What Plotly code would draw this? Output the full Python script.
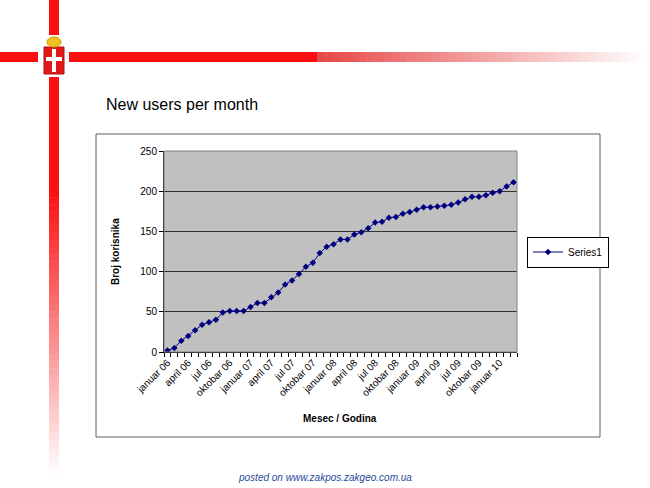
import plotly.graph_objects as go

# ---- data ----
months = ["januar", "februar", "mart", "april", "maj", "jun", "jul",
          "avgust", "septembar", "oktobar", "novembar", "decembar"]
years = ["06", "07", "08", "09", "10"]
n_points = 51
categories = [f"{months[i % 12]} {years[i // 12]}" for i in range(n_points)]
users = [2, 5, 14, 20, 27, 34, 37, 40, 49, 51, 51, 51, 56, 61, 61, 68, 74, 84,
         89, 97, 106, 111, 123, 131, 134, 140, 140, 146, 149, 154, 161, 162,
         167, 168, 172, 174, 177, 180, 180, 181, 182, 183, 186, 190, 193, 193,
         195, 198, 200, 206, 211]
label_step = 3
series_name = "Series1"

W, H = 650, 488
L, R, T, B = 164, 517, 151, 352  # plot area pixels


def px(x):
    return (x - L) / (R - L)


def py(y):
    return (B - y) / (B - T)


FONT = "Arial, Liberation Sans, sans-serif"
xs = list(range(len(users)))

fig = go.Figure()
fig.add_trace(go.Scatter(
    x=xs, y=users, name=series_name, mode="lines+markers",
    line=dict(color="#000080", width=1),
    marker=dict(symbol="diamond", size=5, color="#000080"),
    customdata=categories,
    hovertemplate="%{customdata}: %{y}<extra></extra>",
))

shapes = []


def rect(x0, y0, x1, y1, fill, line=None, lw=0, layer="above"):
    shapes.append(dict(type="rect", xref="paper", yref="paper",
                       x0=px(x0), x1=px(x1), y0=py(y1), y1=py(y0),
                       fillcolor=fill, layer=layer,
                       line=dict(color=line or fill, width=lw)))


def mix(c, t):
    # t=0 -> color c, t=1 -> white
    r, g, b = c
    return "rgb(%d,%d,%d)" % (r + (255 - r) * t, g + (255 - g) * t, b + (255 - b) * t)


RED = (250, 16, 16)
# vertical bar
rect(49, 0, 59, 35, mix(RED, 0))
rect(49, 77, 59, 190, mix(RED, 0))
nseg = 40
for i in range(nseg):
    y0 = 190 + (475 - 190) * i / nseg
    y1 = 190 + (475 - 190) * (i + 1) / nseg
    rect(49, y0, 59, y1 + 0.5, mix(RED, (i + 0.5) / nseg))
# horizontal bar
rect(0, 52, 38, 62, mix(RED, 0))
rect(69, 52, 317, 62, mix(RED, 0))
for i in range(nseg):
    x0 = 317 + (645 - 317) * i / nseg
    x1 = 317 + (645 - 317) * (i + 1) / nseg
    rect(x0, 52, x1 + 0.5, 62, mix((232, 70, 70), (i + 0.5) / nseg))

# simplified coat of arms
rect(44, 47, 64, 74, "#E01818", line="#B01010", lw=1)
rect(52, 49, 56, 72, "white")
rect(46, 57, 62, 61, "white")
shapes.append(dict(type="circle", xref="paper", yref="paper",
                   x0=px(47), x1=px(61), y0=py(47), y1=py(37),
                   fillcolor="#F0C020", line=dict(color="#D0A000", width=1)))

# outer chart box
rect(96, 134, 600, 437, "rgba(0,0,0,0)", line="#606060", lw=1)
# plot area border (top/right)
rect(L, T, R, B, "rgba(0,0,0,0)", line="#808080", lw=1)

annotations = [
    dict(text="New users per month", x=px(104), y=py(105), xref="paper", yref="paper",
         xanchor="left", yanchor="middle", showarrow=False,
         font=dict(family=FONT, size=16, color="black")),
    dict(text="<b>Broj korisnika</b>", x=px(115), y=py(252), xref="paper", yref="paper",
         textangle=-90, xanchor="center", yanchor="middle", showarrow=False,
         font=dict(family=FONT, size=10, color="black")),
    dict(text="<b>Mesec / Godina</b>", x=px(340), y=py(418), xref="paper", yref="paper",
         xanchor="center", yanchor="middle", showarrow=False,
         font=dict(family=FONT, size=10, color="black")),
    dict(text="<i>posted on www.zakpos.zakgeo.com.ua</i>", x=px(325), y=py(477),
         xref="paper", yref="paper", xanchor="center", yanchor="middle", showarrow=False,
         font=dict(family=FONT, size=10, color="#2A4A9A")),
]

tickvals = xs[::label_step]
ticktext = categories[::label_step]

fig.update_layout(
    width=W, height=H,
    margin=dict(l=L, r=W - R, t=T, b=H - B, pad=0),
    paper_bgcolor="white", plot_bgcolor="#C0C0C0",
    font=dict(family=FONT, size=10, color="black"),
    showlegend=True,
    legend=dict(x=px(527), y=py(252), xanchor="left", yanchor="middle",
                bgcolor="white", bordercolor="black", borderwidth=1,
                font=dict(family=FONT, size=10, color="black"),
                itemwidth=30, tracegroupgap=0),
    shapes=shapes, annotations=annotations,
    xaxis=dict(range=[-0.5, len(users) - 0.5], tickmode="array",
               tickvals=tickvals, ticktext=ticktext, tickangle=-45,
               ticks="", showgrid=False, zeroline=False,
               showline=True, linecolor="black", linewidth=1,
               tickfont=dict(family=FONT, size=10, color="black"),
               minor=dict(tickmode="array",
                          tickvals=[i - 0.5 for i in range(len(users) + 1)],
                          ticks="outside", ticklen=4, tickcolor="black",
                          showgrid=False)),
    yaxis=dict(range=[0, 250], dtick=50, tick0=0, ticks="outside", ticklen=4,
               tickcolor="black", showline=True, linecolor="black", linewidth=1,
               showgrid=True, gridcolor="#303030", gridwidth=1, zeroline=False,
               tickfont=dict(family=FONT, size=10, color="black")),
)

fig.write_html("out.html")
